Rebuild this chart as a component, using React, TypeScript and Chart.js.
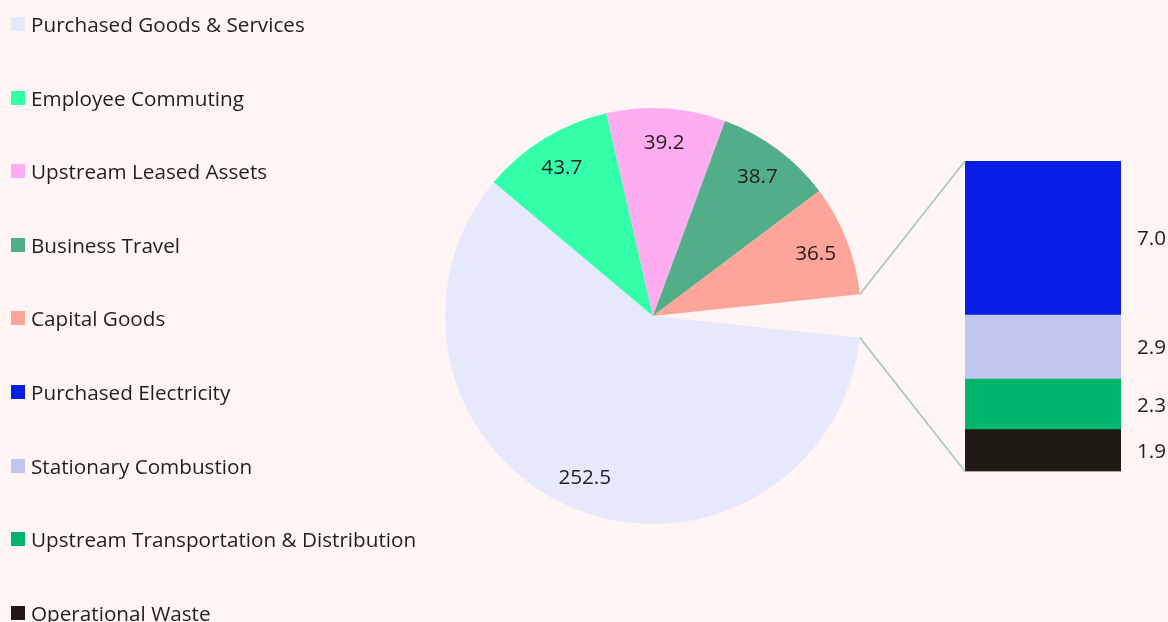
import React, { useEffect, useRef } from "react";
import { Chart, registerables } from "chart.js";

Chart.register(...registerables);

const pieLabels = ["Purchased Goods & Services", "Employee Commuting", "Upstream Leased Assets", "Business Travel", "Capital Goods"];
const pieValues = [252.5, 43.7, 39.2, 38.7, 36.5];
const pieColors = ["#E6E9FC", "#33FFA8", "#FFADF0", "#52AE88", "#FFA498"];

const barLabels = ["Purchased Electricity", "Stationary Combustion", "Upstream Transportation & Distribution", "Operational Waste"];
const barValues = [7.0, 2.9, 2.3, 1.9];
const barColors = ["#061EE6", "#C2C6EE", "#00B46B", "#201A14"];

const W = 1168;
const H = 622;
const BG = "#FFF5F4";
const TEXT = "#231E1B";
const FONT = '"Open Sans"';
const FS = 20.7;
const LINE = "#A8CCBD";

export default function App() {
  const pieRef = useRef<HTMLCanvasElement>(null);
  const barRef = useRef<HTMLCanvasElement>(null);

  useEffect(() => {
    const otherTotal = barValues.reduce((a, b) => a + b, 0);
    const total = pieValues.reduce((a, b) => a + b, 0) + otherTotal;
    const rotation = 90 + (otherTotal / total) * 180;

    const pieLabelPlugin = {
      id: "pieLabels",
      afterDatasetsDraw(chart: any) {
        const ctx = chart.ctx;
        const meta = chart.getDatasetMeta(0);
        ctx.save();
        ctx.font = `${FS}px ${FONT}`;
        ctx.fillStyle = TEXT;
        ctx.textAlign = "center";
        ctx.textBaseline = "alphabetic";
        meta.data.forEach((arc: any, i: number) => {
          if (i >= pieValues.length) return;
          const p = arc.getProps(["x", "y", "startAngle", "endAngle", "outerRadius"], true);
          const mid = (p.startAngle + p.endAngle) / 2;
          const r = p.outerRadius * 0.84;
          const tx = p.x + Math.cos(mid) * r;
          const ty = p.y + Math.sin(mid) * r;
          ctx.fillText(pieValues[i].toFixed(1), tx, ty + FS * 0.357);
        });
        ctx.restore();
      },
    };

    const pie = new Chart(pieRef.current!, {
      type: "pie",
      data: {
        labels: [...pieLabels, "Other"],
        datasets: [
          {
            data: [...pieValues, otherTotal],
            backgroundColor: [...pieColors, "rgba(0,0,0,0)"],
            borderWidth: 0,
          },
        ],
      },
      options: {
        responsive: false,
        animation: false,
        rotation,
        layout: { padding: { left: 445, top: 108, right: W - 861, bottom: H - 524 } },
        plugins: { legend: { display: false }, tooltip: { enabled: false } },
      },
      plugins: [pieLabelPlugin],
    });

    const barPlugin = {
      id: "barExtras",
      afterDatasetsDraw(chart: any) {
        const ctx = chart.ctx;
        const area = chart.chartArea;
        ctx.save();
        // value labels
        ctx.font = `${FS}px ${FONT}`;
        ctx.fillStyle = TEXT;
        ctx.textAlign = "left";
        ctx.textBaseline = "alphabetic";
        chart.data.datasets.forEach((ds: any, di: number) => {
          const el: any = chart.getDatasetMeta(di).data[0];
          const p = el.getProps(["x", "y", "base", "width"], true);
          const cy = (p.y + p.base) / 2;
          ctx.fillText(Number(ds.data[0]).toFixed(1), p.x + p.width / 2 + 16, cy + FS * 0.357);
        });
        // connector lines from pie gap edges to bar corners
        const arcs = pie.getDatasetMeta(0).data;
        const other: any = arcs[arcs.length - 1];
        const o = other.getProps(["x", "y", "startAngle", "endAngle", "outerRadius"], true);
        const firstEl: any = chart.getDatasetMeta(chart.data.datasets.length - 1).data[0];
        const lastEl: any = chart.getDatasetMeta(0).data[0];
        const left = firstEl.getProps(["x", "width"], true);
        const barLeft = left.x - left.width / 2;
        const topY = firstEl.getProps(["y"], true).y;
        const botY = lastEl.getProps(["base"], true).base;
        ctx.strokeStyle = LINE;
        ctx.lineWidth = 1.75;
        ctx.beginPath();
        ctx.moveTo(o.x + Math.cos(o.startAngle) * o.outerRadius, o.y + Math.sin(o.startAngle) * o.outerRadius);
        ctx.lineTo(barLeft, topY);
        ctx.moveTo(o.x + Math.cos(o.endAngle) * o.outerRadius, o.y + Math.sin(o.endAngle) * o.outerRadius);
        ctx.lineTo(barLeft, botY);
        ctx.stroke();
        ctx.restore();
      },
    };

    const order = barValues.map((_, i) => barValues.length - 1 - i);
    const bar = new Chart(barRef.current!, {
      type: "bar",
      data: {
        labels: ["Other"],
        datasets: order.map((i) => ({
          label: barLabels[i],
          data: [barValues[i]],
          backgroundColor: barColors[i],
          borderWidth: 0,
          barPercentage: 1,
          categoryPercentage: 1,
        })),
      },
      options: {
        responsive: false,
        animation: false,
        layout: { padding: { left: 965, top: 161, right: W - 1121, bottom: H - 471.5 } },
        scales: {
          x: { stacked: true, display: false },
          y: { stacked: true, display: false, min: 0, max: otherTotal },
        },
        plugins: { legend: { display: false }, tooltip: { enabled: false } },
      },
      plugins: [barPlugin],
    });

    return () => {
      bar.destroy();
      pie.destroy();
    };
  }, []);

  const legendItems = [
    ...pieLabels.map((l, i) => ({ label: l, color: pieColors[i] })),
    ...barLabels.map((l, i) => ({ label: l, color: barColors[i] })),
  ];

  return (
    <div style={{ position: "fixed", left: 0, top: 0, width: W, height: H, background: BG, overflow: "hidden" }}>
      <canvas ref={pieRef} width={W} height={H} style={{ position: "absolute", left: 0, top: 0 }} />
      <canvas ref={barRef} width={W} height={H} style={{ position: "absolute", left: 0, top: 0, pointerEvents: "none" }} />
      {legendItems.map((it, i) => (
        <div
          key={it.label}
          style={{
            position: "absolute",
            left: 11,
            top: 24 + i * 73.6,
            transform: "translateY(-50%)",
            display: "flex",
            alignItems: "center",
            fontFamily: FONT,
            fontSize: FS,
            color: TEXT,
            whiteSpace: "nowrap",
            lineHeight: "28px",
          }}
        >
          <span style={{ display: "inline-block", width: 14, height: 14, background: it.color, marginRight: 6 }} />
          <span>{it.label}</span>
        </div>
      ))}
    </div>
  );
}
